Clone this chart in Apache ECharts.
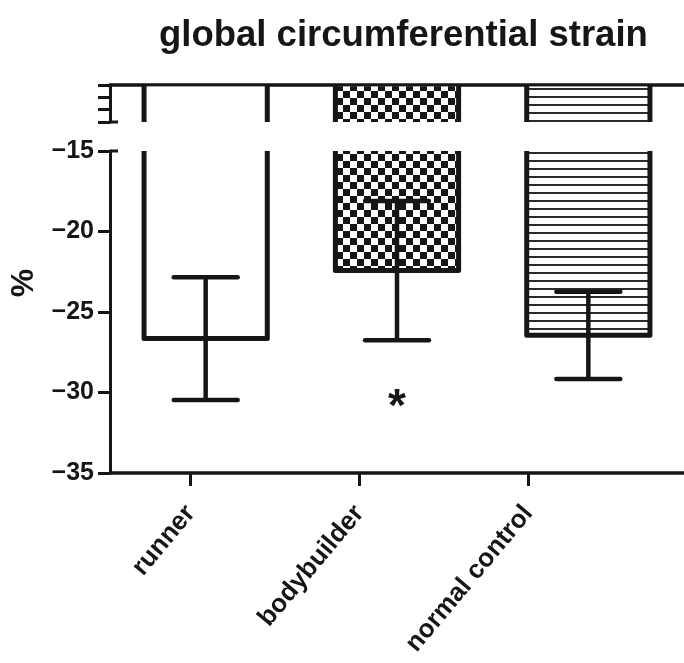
<!DOCTYPE html>
<html>
<head>
<meta charset="utf-8">
<script src="https://cdn.jsdelivr.net/npm/echarts@6/dist/echarts.min.js"></script>
<style>
  html, body { margin: 0; padding: 0; background: #ffffff; }
  #chart { width: 684px; height: 663px; }
</style>
</head>
<body>
<div id="chart"></div>
<script>
// Global circumferential strain (%) per group: mean and SD
const categories = ['runner', 'bodybuilder', 'normal control'];
const meanStrain = [-26.65, -22.43, -26.45];
const sdStrain = [3.81, 4.33, 2.71];
const significance = ['', '*', ''];

// Broken y axis: short upper segment near zero, main segment below the break
const upperSegment = { min: -3, max: 0, interval: 1 };
const mainSegment = { min: -35, max: -15, interval: 5 };

// Fill style per group
const barFills = ['plain', 'checker', 'stripes'];

const INK = '#161616';
const FONT = "'Liberation Sans', Arial, Helvetica, sans-serif";

function makeTile(w, h, draw) {
  const c = document.createElement('canvas');
  c.width = w; c.height = h;
  const g = c.getContext('2d');
  g.fillStyle = '#ffffff';
  g.fillRect(0, 0, w, h);
  g.fillStyle = INK;
  draw(g);
  return { image: c, repeat: 'repeat' };
}
const patterns = {
  plain: '#ffffff',
  checker: makeTile(14, 14, g => { g.fillRect(0, 0, 7, 7); g.fillRect(7, 7, 7, 7); }),
  stripes: makeTile(8, 8, g => { g.fillStyle = '#2a2a2a'; g.fillRect(0, 0, 8, 2); })
};

const BAR_STROKE = 5;
const AXIS_W = 3;

// Bars hang from zero; each axis segment draws the part of the bar it holds.
function barRenderer(segment) {
  return function (params, api) {
    const i = api.value(0);
    const v = api.value(1);
    const cs = params.coordSys;
    const xc = api.coord([i, v])[0];
    const half = api.size([1, 0])[0] * 0.322;
    const x0 = xc - half, x1 = xc + half;
    const fill = patterns[barFills[i]];
    const yTop = cs.y;
    const children = [];
    if (segment === 'upper') {
      const yBot = cs.y + cs.height;
      children.push({
        type: 'rect',
        shape: { x: x0, y: yTop + 1.5, width: x1 - x0, height: yBot - yTop - 1.5 },
        style: { fill: fill }
      });
      children.push({
        type: 'line', shape: { x1: x0, y1: yTop, x2: x0, y2: yBot },
        style: { stroke: INK, lineWidth: BAR_STROKE }
      });
      children.push({
        type: 'line', shape: { x1: x1, y1: yTop, x2: x1, y2: yBot },
        style: { stroke: INK, lineWidth: BAR_STROKE }
      });
    } else {
      const yBot = api.coord([i, v])[1];
      children.push({
        type: 'rect',
        shape: { x: x0, y: yTop, width: x1 - x0, height: yBot - yTop },
        style: { fill: fill }
      });
      children.push({
        type: 'polyline',
        shape: { points: [[x0, yTop], [x0, yBot], [x1, yBot], [x1, yTop]] },
        style: { stroke: INK, fill: null, lineWidth: BAR_STROKE, lineJoin: 'round' }
      });
    }
    return { type: 'group', children: children };
  };
}

function errorRenderer(params, api) {
  const i = api.value(0), m = api.value(1), s = api.value(2);
  const hi = api.coord([i, m + s]);
  const lo = api.coord([i, m - s]);
  const capHalf = api.size([1, 0])[0] * 0.167;
  const st = { stroke: INK, lineWidth: 4.5, lineCap: 'round' };
  return {
    type: 'group',
    children: [
      { type: 'line', shape: { x1: hi[0], y1: hi[1], x2: lo[0], y2: lo[1] }, style: { stroke: INK, lineWidth: 4.5 } },
      { type: 'line', shape: { x1: hi[0] - capHalf, y1: hi[1], x2: hi[0] + capHalf, y2: hi[1] }, style: st },
      { type: 'line', shape: { x1: lo[0] - capHalf, y1: lo[1], x2: lo[0] + capHalf, y2: lo[1] }, style: st }
    ]
  };
}

function markRenderer(params, api) {
  const i = api.value(0);
  const p = api.coord([i, api.value(1)]);
  return {
    type: 'text',
    x: p[0],
    y: p[1] + 68,
    style: {
      text: significance[i],
      fill: INK,
      font: 'bold 46px ' + FONT,
      align: 'center', verticalAlign: 'middle',
      textAlign: 'center', textVerticalAlign: 'middle'
    }
  };
}

const barData = categories.map((c, i) => [i, meanStrain[i]]);
const errData = categories.map((c, i) => [i, meanStrain[i], sdStrain[i]]);
const markData = categories.map((c, i) => [i, meanStrain[i] - sdStrain[i]]);

const axisLineStyle = { color: INK, width: AXIS_W };

const chart = echarts.init(document.getElementById('chart'), null, { renderer: 'canvas' });
const BAR_LEFT = 110, BAR_WIDTH = 582;
const UPPER_TOP = 85, UPPER_H = 37;
const MAIN_TOP = 151, MAIN_H = 322;
const LABEL_TOP = 93;

chart.setOption({
  animation: false,
  backgroundColor: '#ffffff',
  title: {
    text: 'global circumferential strain',
    left: 154, top: 12,
    textStyle: { fontSize: 36.5, fontWeight: 'bold', fontFamily: FONT, color: INK }
  },
  grid: [
    { left: BAR_LEFT, top: UPPER_TOP, width: BAR_WIDTH, height: UPPER_H },
    { left: BAR_LEFT, top: MAIN_TOP, width: BAR_WIDTH, height: MAIN_H },
    { left: 105.5, top: LABEL_TOP, width: 507, height: MAIN_TOP + MAIN_H - LABEL_TOP }
  ],
  xAxis: [
    {
      gridIndex: 0, type: 'category', data: categories, position: 'top',
      axisLine: { onZero: false, lineStyle: { color: INK, width: 3.5 } },
      axisTick: { show: false }, axisLabel: { show: false }
    },
    {
      gridIndex: 1, type: 'category', data: categories, position: 'bottom',
      axisLine: { onZero: false, lineStyle: { color: INK, width: 3.5 } },
      axisTick: { show: false }, axisLabel: { show: false }
    },
    {
      gridIndex: 2, type: 'category', data: categories, position: 'bottom',
      axisLine: { show: false },
      axisTick: { show: true, alignWithLabel: true, length: 13, lineStyle: { color: INK, width: AXIS_W } },
      axisLabel: {
        rotate: 50, margin: 36, fontSize: 26, fontWeight: 'bold', fontFamily: FONT, color: INK
      }
    }
  ],
  yAxis: [
    {
      gridIndex: 0, type: 'value',
      min: upperSegment.min, max: upperSegment.max, interval: upperSegment.interval,
      axisLine: { show: true, onZero: false, lineStyle: axisLineStyle },
      axisTick: { show: true, length: 12, lineStyle: axisLineStyle },
      axisLabel: { show: false }, splitLine: { show: false }
    },
    {
      gridIndex: 1, type: 'value',
      min: mainSegment.min, max: mainSegment.max, interval: mainSegment.interval,
      axisLine: { show: true, onZero: false, lineStyle: axisLineStyle },
      axisTick: { show: true, length: 12, lineStyle: axisLineStyle },
      axisLabel: {
        margin: 16, fontSize: 25, fontWeight: 'bold', fontFamily: FONT, color: INK,
        formatter: v => String(v).replace('-', '\u2212')
      },
      splitLine: { show: false }
    },
    {
      gridIndex: 2, type: 'value', min: 0, max: 1,
      name: '%', nameLocation: 'middle', nameRotate: 90, nameGap: 66,
      nameTextStyle: { fontSize: 32, fontWeight: 'bold', fontFamily: FONT, color: INK },
      axisLine: { show: false }, axisTick: { show: false },
      axisLabel: { show: false }, splitLine: { show: false }
    }
  ],
  series: [
    { type: 'custom', xAxisIndex: 0, yAxisIndex: 0, renderItem: barRenderer('upper'), data: barData, z: 2 },
    { type: 'custom', xAxisIndex: 1, yAxisIndex: 1, renderItem: barRenderer('main'), data: barData, z: 2 },
    { type: 'custom', xAxisIndex: 1, yAxisIndex: 1, renderItem: errorRenderer, data: errData, z: 3 },
    { type: 'custom', xAxisIndex: 1, yAxisIndex: 1, renderItem: markRenderer, data: markData, z: 3 }
  ]
});

// Break marks where the y axis is cut
const yBreakUpper = chart.convertToPixel({ yAxisIndex: 0 }, upperSegment.min);
const yBreakMain = chart.convertToPixel({ yAxisIndex: 1 }, mainSegment.max);
chart.setOption({
  graphic: [yBreakUpper, yBreakMain].map(y => ({
    type: 'line',
    shape: { x1: BAR_LEFT, y1: y, x2: BAR_LEFT + 8, y2: y },
    style: { stroke: INK, lineWidth: AXIS_W },
    z: 5
  }))
});
</script>
</body>
</html>
